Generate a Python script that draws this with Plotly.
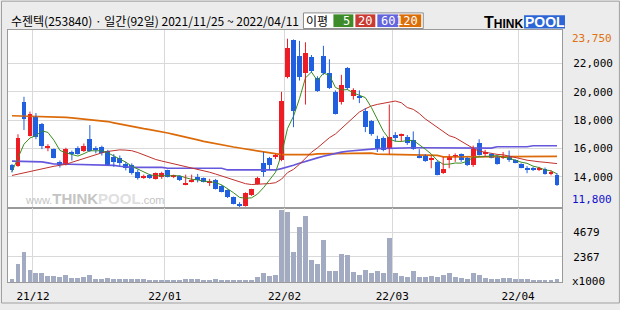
import plotly.graph_objects as go

# ---------------- data ----------------
opn = [14800,14750,19250,16900,18250,17750,16000,15950,15050,14850,
       15750,16050,15800,16650,16050,16100,15800,15400,15350,14900,
       14800,14350,13980,14150,13850,13950,14450,13950,14050,13450,
       13650,13950,13900,13570,13800,13350,13050,12550,12000,11950,
       12700,13500,14950,15300,15400,15200,21050,23650,22550,21300,
       22450,20950,22550,21300,20000,19250,21650,19700,19650,18650,
       17950,16650,16750,15950,16950,16900,16800,16600,15500,15500,
       15200,15050,14250,15200,15450,15600,15350,14800,16350,15650,
       15600,15450,15300,15450,15200,14900,14650,14650,14450,14550,
       14200,14100]
high = [14900,17000,19650,18600,18500,17800,16300,16000,15150,16050,
        15850,16150,16350,17650,16150,16200,15900,15600,15500,15050,
        14950,14500,14150,14200,14300,14350,14500,14150,14100,14150,
        14150,14200,13950,13850,13850,13400,13100,12600,12200,12900,
        13150,14000,15750,15400,15600,20000,23750,23700,23600,23500,
        22600,21100,23250,22300,20100,21200,21750,20250,20100,18850,
        18000,16900,16850,19100,17150,17050,16950,17200,15950,15600,
        15500,15150,15400,15600,15650,15650,15400,16200,16650,15900,
        15650,15500,15750,15850,15250,14950,14750,14700,14700,14650,
        14450,14250]
low = [14300,14700,17300,16850,16650,15950,15800,15300,14650,14800,
       15150,15550,15750,15750,15650,15500,14800,14700,14750,14450,
       14150,13800,13850,13850,13800,13850,13950,13900,13700,13400,
       13600,13600,13600,13350,13100,12900,12500,12050,11800,11900,
       12650,13450,14000,14500,15250,15100,20950,17500,20800,19100,
       21350,20000,21200,20200,18400,19100,20150,19450,19200,17150,
       16900,15750,15800,15600,16500,16500,16250,15900,15300,15050,
       14600,14100,14200,14600,15050,15050,14750,14700,15500,15400,
       15300,14850,15250,15050,14950,14600,14250,14400,14400,14150,
       14100,13350]
close = [14450,16750,18100,18400,16800,16200,16150,15350,14800,15950,
         15600,15600,16200,15850,15900,15650,14850,15050,15000,14600,
         14250,13900,14030,13900,14250,14250,14000,14100,13750,13550,
         13700,13800,13650,13600,13150,12950,12550,12100,11950,12850,
         13100,13900,14350,14800,15450,19350,23100,18650,21050,22750,
         21450,20050,21300,20300,18450,20500,20250,20100,19600,17500,
         17050,16050,15900,16800,16750,16950,16400,15950,15350,15100,
         15250,14150,14550,15400,15500,15200,14800,15950,15550,15700,
         15350,14900,15450,15150,15000,14650,14500,14450,14650,14200,
         14300,13400]
volume = [277,1753,2860,1199,830,830,554,554,461,676,
          369,369,461,676,277,277,369,277,277,277,
          277,277,277,184,184,184,184,184,184,277,
          277,277,184,184,277,184,184,184,184,184,
          184,461,830,584,676,6826,6642,2860,5258,6273,
          2122,1753,3967,1107,1015,2675,2583,922,646,1199,
          830,1107,830,4151,830,554,461,1107,461,461,
          554,461,646,830,461,369,277,830,646,369,
          277,277,369,369,277,277,277,184,184,184,
          184,277]
ma5 = [14360,15400,16300,16740,16900,17250,17130,16580,15860,15690,
       15570,15460,15630,15840,15830,15840,15690,15460,15290,15030,
       14750,14560,14360,14140,14070,14070,14090,14100,14070,13930,
       13820,13780,13690,13660,13580,13430,13180,12870,12540,12480,
       12510,12780,13230,13800,14320,15570,17410,18270,19520,20980,
       21400,20790,21320,21170,20310,20120,20160,19920,19780,19590,
       18900,18060,17220,16660,16510,16490,16560,16570,16280,15950,
       15610,15160,14880,14890,14970,14960,15090,15370,15400,15440,
       15470,15490,15390,15310,15170,15030,14950,14750,14650,14490,
       14420,14200]
ma20 = [14090,14190,14290,14360,14470,14570,14670,14740,14810,14880,
        15020,15160,15280,15430,15550,15690,15790,15870,15900,15880,
        15840,15710,15530,15350,15220,15110,15010,14930,14860,14760,
        14640,14530,14420,14320,14190,14050,13910,13770,13620,13510,
        13450,13460,13470,13520,13580,13830,14290,14520,14880,15340,
        15730,16040,16420,16760,17020,17400,17790,18190,18570,18800,
        19000,19110,19180,19280,19350,19230,18890,18760,18470,18090,
        17780,17490,17150,16900,16760,16490,16220,16010,15810,15720,
        15630,15580,15550,15470,15380,15270,15170,15100,15060,15020,
        14970,14930]
ma60 = [15100,15090,15090,15080,15070,15050,14980,14900,14900,14890,
        14890,14890,14880,14880,14880,14870,14870,14810,14740,14690,
        14660,14660,14660,14660,14660,14660,14600,14600,14600,14600,
        14600,14600,14600,14600,14600,14600,14480,14480,14480,14480,
        14480,14480,14480,14480,14480,14570,14670,14810,14950,15090,
        15210,15330,15450,15560,15670,15740,15800,15850,15880,15910,
        15950,15980,16000,16020,16030,16040,16050,16050,16050,16050,
        16050,16050,16020,16020,16020,16020,16020,16020,16020,16020,
        16020,16120,16120,16120,16120,16120,16120,16190,16190,16190,
        16190,16190]
ma120 = [18310,18300,18290,18290,18280,18270,18250,18230,18210,18190,
         18160,18120,18090,18050,18010,17960,17900,17810,17720,17630,
         17550,17470,17400,17330,17260,17180,17090,16990,16880,16780,
         16690,16600,16500,16410,16330,16250,16170,16100,16030,15960,
         15900,15800,15720,15650,15580,15560,15560,15560,15560,15560,
         15560,15620,15620,15620,15620,15630,15670,15670,15670,15670,
         15670,15600,15590,15590,15580,15580,15520,15520,15510,15510,
         15510,15510,15400,15400,15400,15400,15400,15400,15400,15400,
         15440,15440,15440,15440,15440,15440,15440,15440,15440,15440,
         15440,15440]
month_labels = ["21/12", "22/01", "22/02", "22/03", "22/04"]
month_first_idx = [4, 26, 46, 64, 85]
price_ticks = [14000, 16000, 18000, 20000, 22000]
vol_ticks = [2367, 4679]
title_text = "수젠텍(253840) · 일간(92일) 2021/11/25 ~ 2022/04/11"
ma_names = ["5", "20", "60", "120"]

# ---------------- layout geometry ----------------
W, H = 620, 310
ML, MR, MT, MB = 7, 58, 30, 22
PW, PH = W - ML - MR, H - MT - MB
SPLIT = 212
vol_frac = (H - MB - SPLIT) / PH

def PX(x):
    return (x - ML) / PW

def PY(y):
    return (H - MB - y) / PH

UP, DOWN = "#ee1c24", "#2060e0"
MA_COLORS = ["#3a8c1e", "#c0302c", "#6658dc", "#dc6a08"]
BOX_COLORS = ["#3d8b29", "#c83a32", "#6464dc", "#dc6e0a"]
GRID = "#d9d9d9"
FRAME = "#9a9a9a"
MONO = "DejaVu Sans Mono"
KR = "Noto Sans CJK KR"

n = len(close)
idx = list(range(n))

fig = go.Figure()

# moving averages
for vals, col, w in [(ma120, MA_COLORS[3], 1.7), (ma60, MA_COLORS[2], 1.7),
                     (ma20, MA_COLORS[1], 1.0), (ma5, MA_COLORS[0], 1.0)]:
    fig.add_trace(go.Scatter(x=idx, y=vals, mode="lines", line=dict(color=col, width=w),
                             hoverinfo="skip", showlegend=False, xaxis="x", yaxis="y"))

# candles: wicks + bodies
for color, is_up in [(UP, True), (DOWN, False)]:
    sel = [i for i in idx if (close[i] >= opn[i]) == is_up]
    wx, wy = [], []
    for i in sel:
        wx += [i, i, None]
        wy += [low[i], high[i], None]
    fig.add_trace(go.Scatter(x=wx, y=wy, mode="lines", line=dict(color=color, width=1),
                             hoverinfo="skip", showlegend=False, xaxis="x", yaxis="y"))
    fig.add_trace(go.Bar(x=sel, base=[min(opn[i], close[i]) for i in sel],
                         y=[max(abs(close[i] - opn[i]), 75) for i in sel],
                         width=0.82, marker=dict(color=color, line=dict(width=0)),
                         hoverinfo="skip", showlegend=False, xaxis="x", yaxis="y"))

# volume
fig.add_trace(go.Bar(x=idx, y=volume, width=0.82, marker=dict(color="#a3abc3", line=dict(width=0)),
                     hoverinfo="skip", showlegend=False, xaxis="x2", yaxis="y2"))

grid_x = [i - 0.5 for i in month_first_idx]
x_lo = -(11 - ML) / 6.0
x_hi = x_lo + PW / 6.0

axis_common = dict(showline=True, mirror=True, linecolor=FRAME, linewidth=1,
                   zeroline=False, fixedrange=True)

fig.update_layout(
    width=W, height=H, margin=dict(l=ML, r=MR, t=MT, b=MB),
    paper_bgcolor="#ececec", plot_bgcolor="#ffffff",
    barmode="overlay", bargap=0, showlegend=False,
    xaxis=dict(domain=[0, 1], anchor="y", range=[x_lo, x_hi], tickvals=grid_x,
               showticklabels=False, ticks="", showgrid=True, gridcolor=GRID, gridwidth=1,
               **axis_common),
    xaxis2=dict(domain=[0, 1], anchor="y2", matches="x", range=[x_lo, x_hi], tickvals=grid_x,
                ticktext=month_labels, ticks="", showgrid=True, gridcolor=GRID, gridwidth=1,
                tickfont=dict(family=MONO, size=11, color="#000000"), ticklabelstandoff=4,
                **axis_common),
    yaxis=dict(domain=[vol_frac, 1], anchor="x", side="right", range=[11809, 24367],
               tickvals=price_ticks, ticktext=[f"{v:,}" for v in price_ticks], ticks="",
               showgrid=True, gridcolor=GRID, gridwidth=1,
               tickfont=dict(family=MONO, size=11, color="#000000"), ticklabelstandoff=8,
               **axis_common),
    yaxis2=dict(domain=[0, vol_frac], anchor="x2", side="right", range=[0, 7011],
                tickvals=vol_ticks, ticktext=[str(v) for v in vol_ticks], ticks="",
                showgrid=True, gridcolor=GRID, gridwidth=1,
                tickfont=dict(family=MONO, size=11, color="#000000"), ticklabelstandoff=8,
                **axis_common),
)

shapes = []
annots = []

# outer border
shapes.append(dict(type="rect", xref="paper", yref="paper", x0=PX(0.5), x1=PX(619.5),
                   y0=PY(309.5), y1=PY(0.5), line=dict(color="#a0a0a0", width=1), layer="below"))

# header title
annots.append(dict(xref="paper", yref="paper", x=PX(8), y=PY(20.5), xanchor="left", yanchor="middle",
                   text=title_text, showarrow=False, font=dict(family=KR, size=12, color="#000000")))

# MA legend box
shapes.append(dict(type="rect", xref="paper", yref="paper", x0=PX(303), x1=PX(423), y0=PY(28.5), y1=PY(12.5),
                   fillcolor="#ffffff", line=dict(color="#8c8c8c", width=1)))
annots.append(dict(xref="paper", yref="paper", x=PX(317), y=PY(20.5), xanchor="center", yanchor="middle",
                   text="이평", showarrow=False, font=dict(family=KR, size=12, color="#000000")))
box_x = [(333, 353), (355, 375), (377, 398), (399, 421)]
for (x0, x1), col, name in zip(box_x, BOX_COLORS, ma_names):
    shapes.append(dict(type="rect", xref="paper", yref="paper", x0=PX(x0), x1=PX(x1), y0=PY(27), y1=PY(14),
                       fillcolor=col, line=dict(width=0)))
    annots.append(dict(xref="paper", yref="paper", x=PX(x1 - 1), y=PY(20.5), xanchor="right", yanchor="middle",
                       text=name, showarrow=False, font=dict(family=MONO, size=12, color="#ffffff")))

# THINKPOOL logo
annots.append(dict(xref="paper", yref="paper", x=PX(482), y=PY(22), xanchor="left", yanchor="middle",
                   text="<b>T<span style='font-size:12px'>HINK</span></b>", showarrow=False,
                   font=dict(family="Liberation Sans", size=16, color="#000000")))
shapes.append(dict(type="rect", xref="paper", yref="paper", x0=PX(524), x1=PX(565), y0=PY(28.5), y1=PY(15),
                   fillcolor="#2c66d6", line=dict(width=0)))
annots.append(dict(xref="paper", yref="paper", x=PX(544.5), y=PY(22), xanchor="center", yanchor="middle",
                   text="<b>POOL</b>", showarrow=False,
                   font=dict(family="Liberation Sans", size=14, color="#ffffff")))

# watermark
annots.append(dict(xref="paper", yref="paper", x=PX(22), y=PY(203), xanchor="left", yanchor="middle",
                   text="www.<b><span style='font-size:15px'>THINK</span>"
                        "<span style='font-size:15px;color:#e0e0e0'>POOL</span></b>.com",
                   showarrow=False, font=dict(family="Liberation Sans", size=11, color="#c4c4c4")))

# special price labels
annots.append(dict(xref="paper", yref="y", x=PX(570), y=max(high), xanchor="left", yanchor="middle",
                   text=f"{max(high):,}", showarrow=False, font=dict(family=MONO, size=11, color="#e07010")))
annots.append(dict(xref="paper", yref="paper", x=PX(570), y=vol_frac, xanchor="left", yanchor="bottom",
                   text=f"{min(low):,}", showarrow=False, font=dict(family=MONO, size=11, color="#1010cc")))
annots.append(dict(xref="paper", yref="paper", x=PX(570), y=PY(287), xanchor="left", yanchor="middle",
                   text="x1000", showarrow=False, font=dict(family=MONO, size=11, color="#000000")))

fig.update_layout(shapes=shapes, annotations=annots)
fig.write_html("out.html", config={"displayModeBar": False})
